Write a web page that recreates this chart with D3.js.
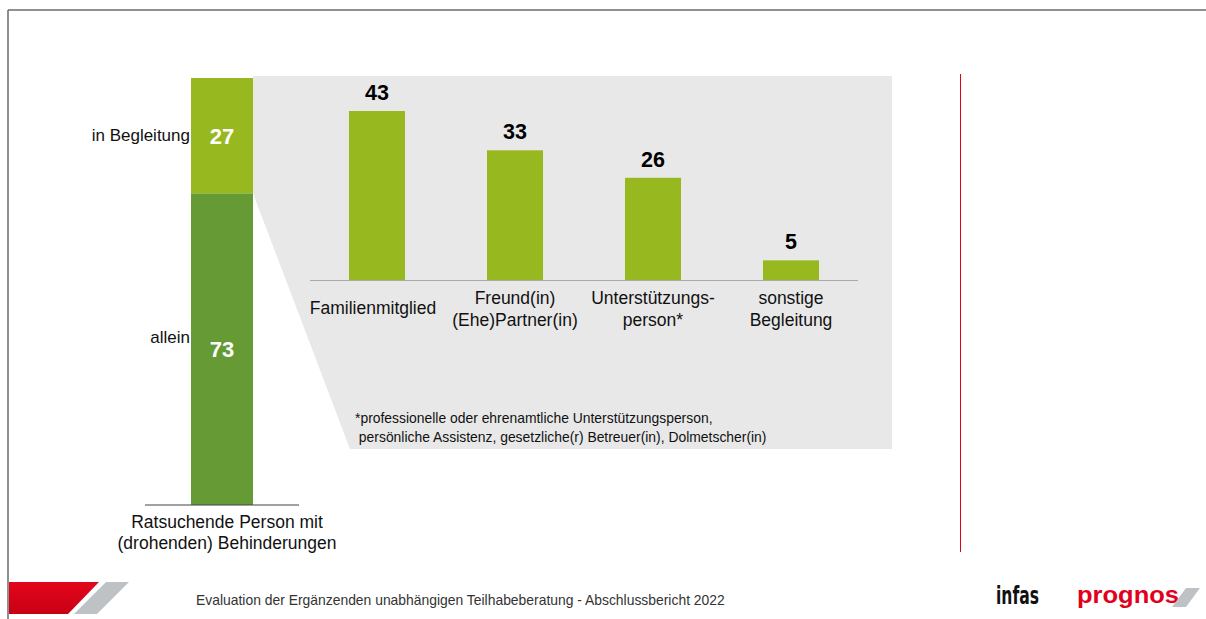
<!DOCTYPE html>
<html>
<head>
<meta charset="utf-8">
<script src="https://cdn.jsdelivr.net/npm/d3@7"></script>
<style>
  html, body { margin: 0; padding: 0; background: #fff; }
  svg { display: block; font-family: "Liberation Sans", Arial, sans-serif; }
</style>
</head>
<body>
<svg id="chart" width="1206" height="619"></svg>
<script>
// Stacked share: how people came to the counselling
const stackCategories = ["in Begleitung", "allein"];
const stackValues = [27, 73];
const stackAxisLabel = ["Ratsuchende Person mit", "(drohenden) Behinderungen"];

// Breakdown of accompanied visits
const detailCategories = [
  ["Familienmitglied"],
  ["Freund(in)", "(Ehe)Partner(in)"],
  ["Unterstützungs-", "person*"],
  ["sonstige", "Begleitung"]
];
const detailValues = [43, 33, 26, 5];

const footnoteLines = [
  "*professionelle oder ehrenamtliche Unterstützungsperson,",
  " persönliche Assistenz, gesetzliche(r) Betreuer(in), Dolmetscher(in)"
];
const footerText = "Evaluation der Ergänzenden unabhängigen Teilhabeberatung - Abschlussbericht 2022";

const lightGreen = "#97b91f";
const darkGreen = "#659a35";
const red = "#e2001a";

const svg = d3.select("#chart");

// Page frame
svg.append("line").attr("x1", 8).attr("x2", 1206).attr("y1", 10).attr("y2", 10)
  .attr("stroke", "#6b6b6b").attr("stroke-width", 1.5);
svg.append("line").attr("x1", 8).attr("x2", 8).attr("y1", 10).attr("y2", 619)
  .attr("stroke", "#6b6b6b").attr("stroke-width", 1.5);

// Stacked bar scales
const yStack = d3.scaleLinear().domain([0, 100]).range([505, 78]);
const barX = 191, barW = 62;

// Stack: "allein" at bottom, "in Begleitung" on top
let cum = 0;
const stackData = [1, 0].map(i => {
  const d = { cat: stackCategories[i], value: stackValues[i], y0: cum, y1: cum + stackValues[i], color: i === 0 ? lightGreen : darkGreen, top: i === 0 };
  cum += stackValues[i];
  return d;
});

// Grey zoom panel connecting the "in Begleitung" segment to its breakdown
const topSeg = stackData.find(d => d.top);
const panelTop = 76, panelRight = 892, panelBottom = 449, panelBottomLeft = 350;
svg.append("path")
  .attr("d", d3.line()([
    [barX + barW, panelTop],
    [panelRight, panelTop],
    [panelRight, panelBottom],
    [panelBottomLeft, panelBottom],
    [barX + barW, yStack(topSeg.y0)]
  ]) + "Z")
  .attr("fill", "#e8e8e8");

svg.selectAll("rect.stack").data(stackData).enter().append("rect")
  .attr("class", "stack")
  .attr("x", barX).attr("width", barW)
  .attr("y", d => yStack(d.y1))
  .attr("height", d => yStack(d.y0) - yStack(d.y1))
  .attr("fill", d => d.color);

svg.selectAll("text.stackVal").data(stackData).enter().append("text")
  .attr("class", "stackVal")
  .attr("x", barX + barW / 2)
  .attr("y", d => (yStack(d.y0) + yStack(d.y1)) / 2 + 8)
  .attr("text-anchor", "middle")
  .attr("font-size", 22).attr("font-weight", "bold").attr("fill", "#fff")
  .text(d => d.value);

svg.selectAll("text.stackCat").data(stackData).enter().append("text")
  .attr("class", "stackCat")
  .attr("x", barX - 1)
  .attr("y", d => (yStack(d.y0) + yStack(d.y1)) / 2 + (d.top ? 5 : -6))
  .attr("text-anchor", "end")
  .attr("font-size", 17).attr("fill", "#111")
  .text(d => d.cat);

svg.append("line").attr("x1", 145).attr("x2", 299).attr("y1", 505).attr("y2", 505)
  .attr("stroke", "#444").attr("stroke-width", 1);

svg.append("text").attr("x", 227).attr("y", 528).attr("text-anchor", "middle")
  .attr("font-size", 17.5).attr("fill", "#111")
  .selectAll("tspan").data(stackAxisLabel).enter().append("tspan")
  .attr("x", 227).attr("dy", (d, i) => i === 0 ? 0 : 21).text(d => d);

// Breakdown bar chart
const x = d3.scaleBand().domain(d3.range(detailValues.length))
  .range([308, 860]).paddingInner(0.594).paddingOuter(0.297);
const y = d3.scaleLinear().domain([0, 43]).range([280, 111]);

svg.selectAll("rect.detail").data(detailValues).enter().append("rect")
  .attr("class", "detail")
  .attr("x", (d, i) => x(i)).attr("width", x.bandwidth())
  .attr("y", d => y(d)).attr("height", d => y(0) - y(d))
  .attr("fill", lightGreen);

svg.append("line").attr("x1", 310).attr("x2", 858).attr("y1", y(0) + 0.5).attr("y2", y(0) + 0.5)
  .attr("stroke", "#aaaaaa").attr("stroke-width", 1.2);

svg.selectAll("text.detailVal").data(detailValues).enter().append("text")
  .attr("class", "detailVal")
  .attr("x", (d, i) => x(i) + x.bandwidth() / 2)
  .attr("y", d => y(d) - 11)
  .attr("text-anchor", "middle")
  .attr("font-size", 21.5).attr("font-weight", "bold").attr("fill", "#000")
  .text(d => d);

detailCategories.forEach((lines, i) => {
  const cx = x(i) + x.bandwidth() / 2 - (lines.length === 1 ? 4 : 0);
  const startY = lines.length === 1 ? 314 : 304;
  const t = svg.append("text").attr("x", cx).attr("y", startY)
    .attr("text-anchor", "middle").attr("font-size", 17.5).attr("fill", "#111");
  lines.forEach((ln, j) => {
    t.append("tspan").attr("x", cx).attr("dy", j === 0 ? 0 : 22).text(ln);
  });
});

// Footnote
const fn = svg.append("text").attr("x", 355).attr("y", 423)
  .attr("font-size", 13.9).attr("fill", "#111").attr("xml:space", "preserve")
  .style("white-space", "pre");
footnoteLines.forEach((ln, j) => {
  fn.append("tspan").attr("x", 355).attr("dy", j === 0 ? 0 : 19).text(ln);
});

// Red divider
svg.append("line").attr("x1", 960.5).attr("x2", 960.5).attr("y1", 74).attr("y2", 552)
  .attr("stroke", red).attr("stroke-width", 1);

// Footer band
const redGrad = svg.append("defs").append("linearGradient").attr("id", "redGrad")
  .attr("x1", 0).attr("y1", 0).attr("x2", 0).attr("y2", 1);
redGrad.append("stop").attr("offset", "0%").attr("stop-color", "#e3061c");
redGrad.append("stop").attr("offset", "100%").attr("stop-color", "#c80014");
svg.append("path").attr("d", d3.line()([[9, 582], [99, 582], [68, 614], [9, 614]]) + "Z")
  .attr("fill", "url(#redGrad)");
svg.append("path").attr("d", d3.line()([[106, 582], [129, 582], [97, 614], [74, 614]]) + "Z")
  .attr("fill", "#bfc2c4");

svg.append("text").attr("x", 196).attr("y", 605)
  .attr("font-size", 13.9).attr("fill", "#333").text(footerText);

svg.append("text").attr("x", 996).attr("y", 604)
  .attr("font-family", "'Liberation Sans Narrow', 'DejaVu Sans Condensed', sans-serif")
  .attr("font-size", 24).attr("font-weight", "bold").attr("fill", "#111")
  .attr("textLength", 43).attr("lengthAdjust", "spacingAndGlyphs")
  .text("infas");

svg.append("text").attr("x", 1077).attr("y", 603)
  .attr("font-size", 23).attr("font-weight", "bold").attr("fill", red)
  .attr("textLength", 102).attr("lengthAdjust", "spacingAndGlyphs")
  .text("prognos");
svg.append("path").attr("d", d3.line()([[1186, 588], [1200, 588], [1186, 607], [1172, 607]]) + "Z")
  .attr("fill", "#bfc2c4");
</script>
</body>
</html>
